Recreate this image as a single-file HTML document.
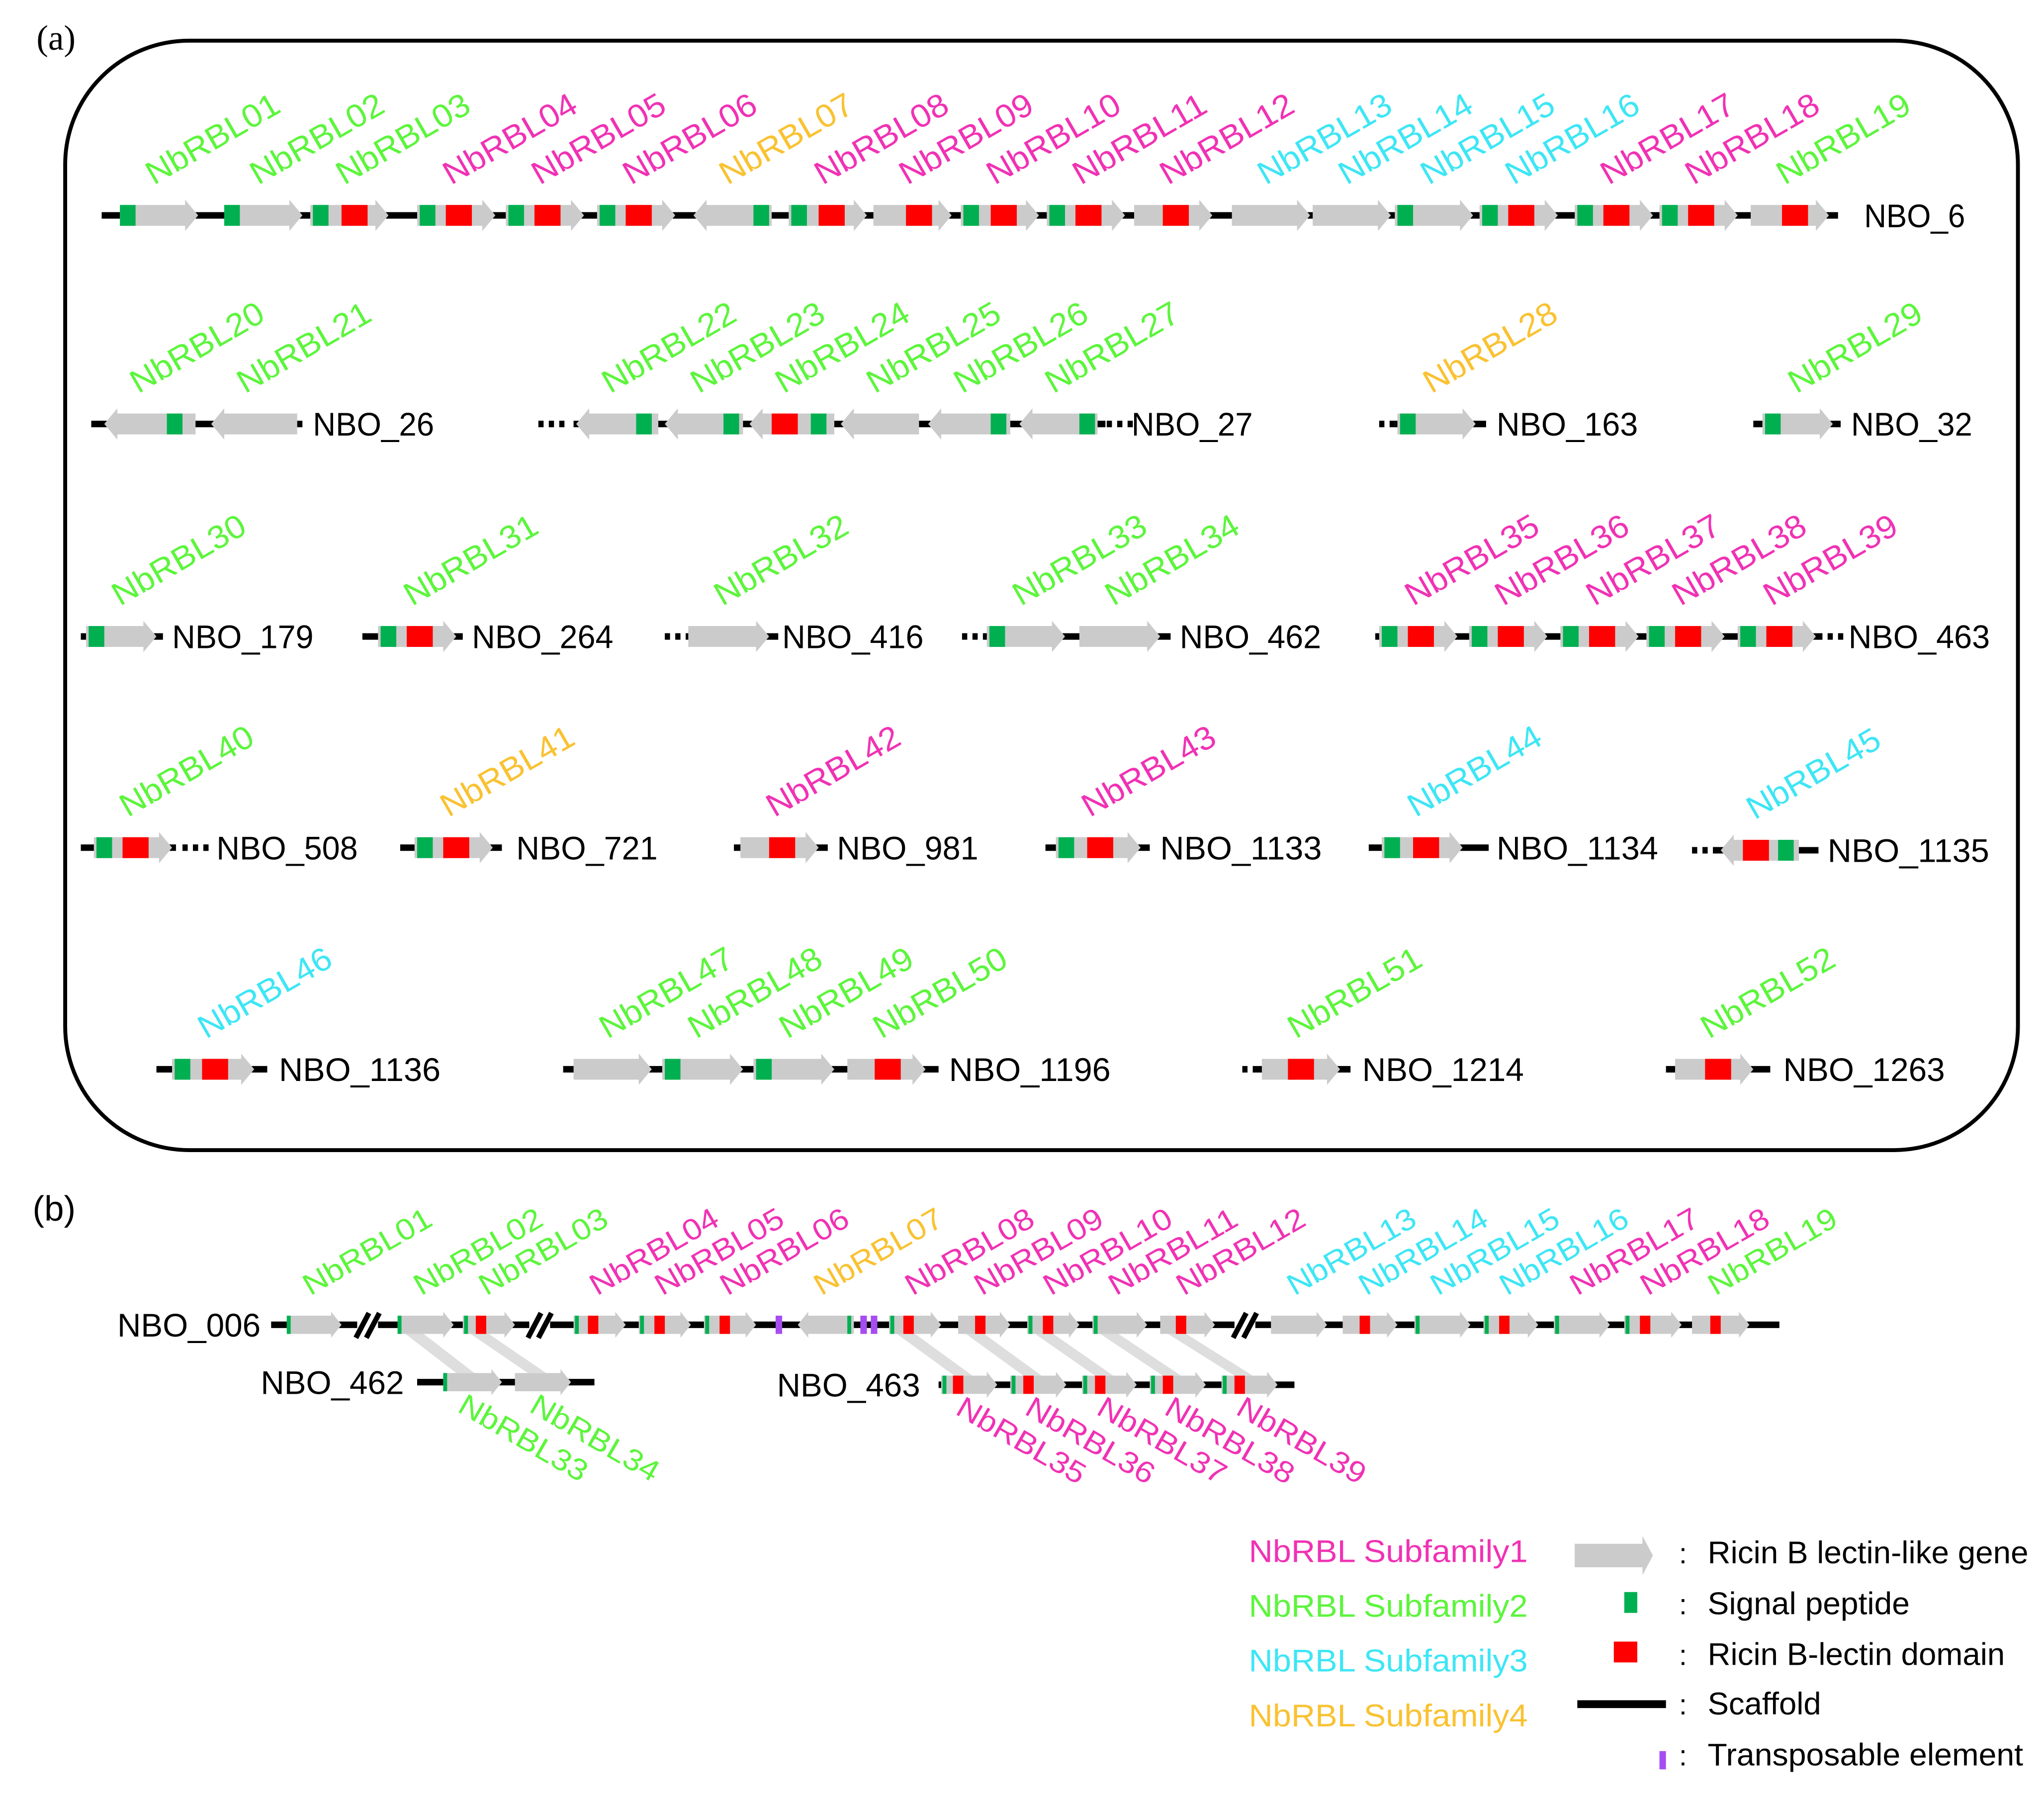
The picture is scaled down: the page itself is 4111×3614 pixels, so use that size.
<!DOCTYPE html>
<html><head><meta charset="utf-8"><style>
html,body{margin:0;padding:0;background:#fff;}
svg{display:block;}
text{font-family:"Liberation Sans",sans-serif;}
</style></head><body>
<svg id="fig" width="4111" height="3614" viewBox="0 0 1568 1378" xmlns="http://www.w3.org/2000/svg">
<g id="root"></g>
</svg>
<script>
// ---------- data ----------
const subfamily = [0,2,2,2,1,1,1,4,1,1,1,1,1,3,3,3,3,1,1,2,2,2,2,2,2,2,2,2,4,2,2,2,2,2,2,1,1,1,1,1,2,4,1,1,3,3,3,2,2,2,2,2,2];
const famColors = ["#000","#f032b4","#5cf53c","#3ee6f5","#f9c232"];
const scaffoldsA = [
 ["NBO_6",165,78,1410,0,0,1430],
 ["NBO_26",325,70,232,0,0,240],
 ["NBO_27",325,440,848,415,865,868],
 ["NBO_163",325,1070,1140,1060,0,1148],
 ["NBO_32",325,1345,1412,0,0,1420],
 ["NBO_179",488,62,125,0,0,132],
 ["NBO_264",488,278,355,0,0,362],
 ["NBO_416",488,528,597,512,0,600],
 ["NBO_462",488,755,898,740,0,905],
 ["NBO_463",488,1055,1398,0,1410,1418],
 ["NBO_508",650,62,135,0,156,166],
 ["NBO_721",650,307,385,0,0,396],
 ["NBO_981",650,563,635,0,0,642],
 ["NBO_1133",650,802,882,0,0,890],
 ["NBO_1134",650,1050,1142,0,0,1148],
 ["NBO_1135",652,1318,1395,1300,0,1402],
 ["NBO_1136",820,120,205,0,0,214],
 ["NBO_1196",820,432,720,0,0,728],
 ["NBO_1214",820,965,1036,955,0,1045],
 ["NBO_1263",820,1278,1358,0,0,1368]
];
const genesA = [
 [1,165,92,152,1,92,-1],[2,165,172,232,1,172,-1],[3,165,238,298,1,240,262],[4,165,320,380,1,322,342],
 [5,165,388,448,1,390,410],[6,165,458,518,1,460,480],[7,165,532,592,-1,578,-1],[8,165,605,665,1,607,628],
 [9,165,670,730,1,-1,695],[10,165,737,797,1,739,760],[11,165,803,863,1,805,825],[12,165,870,930,1,-1,892],
 [13,165,945,1005,1,-1,-1],[14,165,1007,1067,1,-1,-1],[15,165,1070,1130,1,1072,-1],[16,165,1135,1195,1,1137,1157],
 [17,165,1208,1268,1,1210,1230],[18,165,1273,1333,1,1275,1295],[19,165,1343,1403,1,-1,1367],
 [20,325,80,150,-1,128,-1],[21,325,162,228,-1,-1,-1],
 [22,325,442,505,-1,488,-1],[23,325,510,570,-1,555,-1],[24,325,575,640,-1,622,592],[25,325,645,705,-1,-1,-1],
 [26,325,712,775,-1,760,-1],[27,325,782,842,-1,828,-1],[28,325,1072,1132,1,1074,-1],[29,325,1352,1406,1,1354,-1],
 [30,488,66,120,1,68,-1],[31,488,290,350,1,292,312],[32,488,528,590,1,-1,-1],[33,488,757,817,1,759,-1],[34,488,828,890,1,-1,-1],
 [35,488,1058,1118,1,1060,1080],[36,488,1127,1187,1,1129,1149],[37,488,1197,1257,1,1199,1219],[38,488,1263,1323,1,1265,1285],[39,488,1333,1393,1,1335,1355],
 [40,650,72,132,1,74,94],[41,650,318,378,1,320,340],[42,650,568,628,1,-1,590],[43,650,810,875,1,812,834],[44,650,1060,1122,1,1062,1084],
 [45,652,1320,1380,-1,1364,1337],
 [46,820,132,195,1,134,155],[47,820,440,500,1,-1,-1],[48,820,508,570,1,510,-1],[49,820,578,640,1,580,-1],[50,820,650,710,1,-1,671],
 [51,820,968,1028,1,-1,988],[52,820,1285,1345,1,-1,1308]
];
const scaffoldsB = [["NBO_006",1016,208,1365,90],["NBO_462",1060,320,456,200],["NBO_463",1062,720,993,596]];
const genesB = [
 [1,1016,220,262,1,220,-1,0],[2,1016,305,348,1,305,-1,0],[3,1016,355,395,1,356,365,0],[4,1016,440,480,1,441,451,0],
 [5,1016,490,530,1,491,502,0],[6,1016,540,580,1,541,552,0],[7,1016,612,655,-1,650,-1,0],[8,1016,682,722,1,683,693,0],
 [9,1016,735,775,1,-1,748,0],[10,1016,788,828,1,789,800,0],[11,1016,838,880,1,839,-1,0],[12,1016,890,932,1,-1,902,0],
 [13,1016,975,1018,1,-1,-1,0],[14,1016,1030,1072,1,-1,1043,0],[15,1016,1085,1128,1,1086,-1,0],[16,1016,1138,1180,1,1139,1150,0],
 [17,1016,1192,1235,1,1193,-1,0],[18,1016,1246,1290,1,1247,1258,0],[19,1016,1298,1342,1,-1,1312,0],
 [33,1060,340,385,1,340,-1,1],[34,1060,395,438,1,-1,-1,1],
 [35,1062,722,765,1,723,731,1],[36,1062,775,818,1,776,785,1],[37,1062,830,872,1,831,840,1],[38,1062,882,925,1,883,892,1],[39,1062,937,980,1,938,947,1]
];
const breaksB = [280,412,953];
const tesB = [597,662,670];
const linksB = [[2,33],[3,34],[8,35],[9,36],[10,37],[11,38],[12,39]];

// ---------- drawing ----------
const NS = "http://www.w3.org/2000/svg";
const root = document.getElementById('root');
function mk(tag, attrs, parent){
  const e = document.createElementNS(NS, tag);
  for (const k in attrs) e.setAttribute(k, attrs[k]);
  (parent||root).appendChild(e);
  return e;
}
function pad(n){return (n<10?"0":"")+n;}

let fr = mk('rect',{x:50,y:31,width:1498,height:851,rx:95,ry:95,fill:'none',stroke:'#000','stroke-width':3});


let pa = mk('text',{x:28,y:38,'font-size':27,fill:'#000',style:'font-family:"Liberation Serif",serif'});
pa.textContent='(a)';


let pb = mk('text',{x:25,y:936,'font-size':27,fill:'#000'});
pb.textContent='(b)';



function scaffoldLine(y,x1,x2,th,name){
  const l = mk('line',{x1:x1,x2:x2,y1:y,y2:y,stroke:'#000','stroke-width':th});
  
  
}
function dots(y,x,name){
  for(let i=0;i<3;i++){
    const d = mk('rect',{x:x+i*8-2,y:y-2.5,width:4,height:5,fill:'#000'});
    
    
  }
}
function gene(g,h,hh,hl,gw,rw,prefix){
  const [n,y,x1,x2,dir,gs,rs] = g;
  const grp = mk('g',{});
  
  
  let pts;
  if(dir>0) pts=[[x1,y-h/2],[x2-hl,y-h/2],[x2-hl,y-hh/2],[x2,y],[x2-hl,y+hh/2],[x2-hl,y+h/2],[x1,y+h/2]];
  else pts=[[x2,y-h/2],[x1+hl,y-h/2],[x1+hl,y-hh/2],[x1,y],[x1+hl,y+hh/2],[x1+hl,y+h/2],[x2,y+h/2]];
  mk('polygon',{points:pts.map(p=>p.join(',')).join(' '),fill:'#cbcbcb'},grp);
  if(gs>=0) mk('rect',{x:gs,y:y-h/2,width:gw,height:h,fill:'#00b050'},grp);
  if(rs>=0) mk('rect',{x:rs,y:y-h/2,width:rw,height:h,fill:'#ff0000'},grp);
}
function label(n,x,y,rot,fs,len){
  const t = mk('text',{x:x,y:y,'font-size':fs,fill:famColors[subfamily[n]],transform:`rotate(${rot} ${x} ${y})`,textLength:len,lengthAdjust:'spacingAndGlyphs'});
  t.textContent='NbRBL'+pad(n);
  
  
}
function scafName(s,x,y,fs,len){
  const t = mk('text',{x:x,y:y,'font-size':fs,fill:'#000',textLength:len,lengthAdjust:'spacingAndGlyphs'});
  t.textContent=s;
  
  
}

scaffoldsA.forEach(s=>{
  const [name,y,a,b,dl,dr,lx]=s;
  scaffoldLine(y,a,b,5,name.toLowerCase());
  if(dl) dots(y,dl,name.toLowerCase());
  if(dr) dots(y,dr-14,name.toLowerCase());
  scafName(name,lx,y+9,25,name.length*15.5);
});
genesA.forEach(g=>{
  gene(g,16,24,10,12,20,'');
  label(g[0],g[2]+26,g[1]-23,-30,25,114);
});

linksB.forEach(([a,b])=>{
  const ga=genesB.find(g=>g[0]===a), gb=genesB.find(g=>g[0]===b);
  const p = mk('polygon',{points:`${ga[2]+6},${ga[1]+7} ${ga[2]+20},${ga[1]+7} ${gb[2]+24},${gb[1]-7} ${gb[2]+10},${gb[1]-7}`,fill:'#dedede'});
  
  
});
scaffoldsB.forEach(s=>{
  const [name,y,a,b,lx]=s;
  scaffoldLine(y,a,b,5,name.toLowerCase());
  scafName(name,lx,y+9,25,name.length*15.7);
});
breaksB.forEach(x=>{
  const g = mk('g',{});
  
  
  mk('rect',{x:x-6,y:1007,width:16,height:18,fill:'#fff'},g);
  mk('line',{x1:x-7,y1:1026,x2:x+3,y2:1007,stroke:'#000','stroke-width':4},g);
  mk('line',{x1:x+1,y1:1026,x2:x+11,y2:1007,stroke:'#000','stroke-width':4},g);
});
genesB.forEach(g=>{
  gene(g,14,20,8,3,8,'b-');
  if(g[7]) label(g[0],g[2]+10,g[1]+22,30,23,110);
  else label(g[0],g[2]+18,g[1]-22,-30,23,110);
});
tesB.forEach(x=>{
  const r = mk('rect',{x:x-2,y:1009,width:5,height:14,fill:'#a64df2'});
  
  
});

const legFam = ["Subfamily1","Subfamily2","Subfamily3","Subfamily4"];
const legFamY = [1198,1240,1282,1324];
legFam.forEach((f,i)=>{
  const t = mk('text',{x:958,y:legFamY[i],'font-size':24,fill:famColors[i+1],textLength:214,lengthAdjust:'spacingAndGlyphs'});
  t.textContent='NbRBL  '+f;
  
  
});
const legItems = ["Ricin B lectin-like gene","Signal peptide","Ricin B-lectin domain","Scaffold","Transposable element"];
const legY = [1199,1238,1277,1315,1354];
const legLen = [246,155,228,87,242];
legItems.forEach((s,i)=>{
  const c = mk('text',{x:1288,y:legY[i],'font-size':22,fill:'#000'});
  c.textContent=':';
  
  
  const t = mk('text',{x:1310,y:legY[i],'font-size':24,fill:'#000',textLength:legLen[i],lengthAdjust:'spacingAndGlyphs'});
  t.textContent=s;
  
  
});
let li;
li = mk('polygon',{points:'1208,1184 1260,1184 1260,1178 1268,1193 1260,1208 1260,1202 1208,1202',fill:'#cbcbcb'});
 
li = mk('rect',{x:1246,y:1221,width:10,height:16,fill:'#00b050'});
 
li = mk('rect',{x:1238,y:1259,width:18,height:16,fill:'#ff0000'});
 
li = mk('rect',{x:1210,y:1304,width:68,height:6,fill:'#000'});
 
li = mk('rect',{x:1273,y:1343,width:5,height:14,fill:'#a64df2'});
 
</script>
</body></html>
